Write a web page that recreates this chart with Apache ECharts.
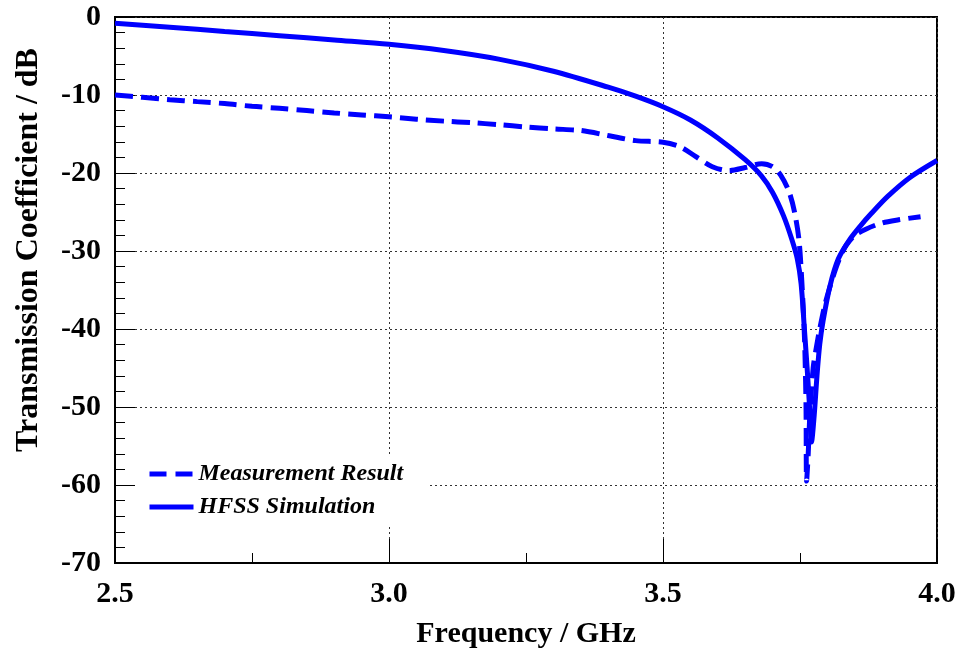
<!DOCTYPE html>
<html>
<head>
<meta charset="utf-8">
<title>Transmission Coefficient</title>
<script src="https://cdn.jsdelivr.net/npm/echarts@6/dist/echarts.min.js"></script>
<style>
  html, body { margin: 0; padding: 0; background: #fff; }
  #chart { width: 961px; height: 657px; }
</style>
</head>
<body>
<div id="chart"></div>
<script>
// Measured S21 (frequency in GHz, level in dB)
const measFreq = [2.50, 2.55, 2.60, 2.65, 2.70, 2.75, 2.80, 2.85, 2.90, 2.95,
  3.00, 3.05, 3.10, 3.15, 3.20, 3.25, 3.30, 3.35, 3.40, 3.45, 3.50,
  3.53, 3.56, 3.59, 3.62, 3.65, 3.68, 3.70, 3.715, 3.73, 3.74, 3.748, 3.753,
  3.757, 3.759, 3.761, 3.762, 3.765, 3.768, 3.774, 3.78, 3.786, 3.795, 3.805,
  3.815, 3.825, 3.835, 3.85, 3.87, 3.90, 3.93, 3.97];
const measDb = [-10.0, -10.3, -10.6, -10.85, -11.1, -11.45, -11.7, -12.0, -12.3, -12.55,
  -12.8, -13.1, -13.35, -13.55, -13.8, -14.1, -14.35, -14.55, -15.2, -15.85, -16.05,
  -16.6, -17.9, -19.2, -19.7, -19.3, -18.8, -19.2, -20.3, -22.4, -25.0, -28.5, -33.5,
  -39.0, -43.0, -50.0, -59.5, -56.0, -51.0, -45.0, -42.3, -40.0, -37.0, -34.5,
  -32.3, -30.5, -29.2, -28.0, -27.2, -26.4, -26.0, -25.6];

// HFSS simulated S21
const simFreq = [2.50, 2.60, 2.70, 2.80, 2.90, 3.00, 3.10, 3.20, 3.30, 3.40,
  3.45, 3.50, 3.55, 3.60, 3.65, 3.68, 3.70, 3.72, 3.735, 3.745, 3.752, 3.758,
  3.763, 3.767, 3.771, 3.776, 3.781, 3.786, 3.792, 3.805, 3.82, 3.84, 3.86,
  3.88, 3.91, 3.95, 4.00];
const simDb = [-0.8, -1.3, -1.85, -2.4, -2.95, -3.5, -4.3, -5.4, -6.95, -9.0,
  -10.15, -11.5, -13.2, -15.5, -18.3, -20.4, -22.5, -25.5, -28.5, -31.0, -34.2, -40.0,
  -45.0, -49.5, -54.5, -51.0, -46.0, -42.0, -39.0, -34.4, -31.0, -28.6, -26.8,
  -25.2, -23.0, -20.6, -18.4];

const seriesNames = ['Measurement Result', 'HFSS Simulation'];
const xTicks = { min: 2.5, max: 4.0, step: 0.5 };
const yTicks = { min: -70, max: 0, step: 10 };

const pairs = (xs, ys) => xs.map((x, i) => [x, ys[i]]);

const FONT = '"Liberation Serif", "Times New Roman", serif';
const BLUE = '#0000ff';
const DASH = [18, 8];

const chart = echarts.init(document.getElementById('chart'), null, { renderer: 'canvas' });

chart.setOption({
  animation: false,
  backgroundColor: '#ffffff',
  grid: {
    left: 115, right: 24, top: 17, bottom: 94,
    show: true, borderColor: '#000', borderWidth: 2, backgroundColor: 'transparent'
  },
  xAxis: {
    type: 'value',
    min: xTicks.min, max: xTicks.max, interval: xTicks.step,
    name: 'Frequency / GHz',
    nameLocation: 'middle',
    nameGap: 56,
    nameTextStyle: { fontFamily: FONT, fontWeight: 'bold', fontSize: 30, color: '#000' },
    axisLine: { show: true, onZero: false, lineStyle: { color: '#000', width: 2 } },
    axisTick: { show: true, inside: true, length: 24, lineStyle: { color: '#000', width: 1 } },
    minorTick: { show: true, splitNumber: 2, length: 10, lineStyle: { color: '#000', width: 1 } },
    axisLabel: {
      margin: 16, color: '#000', fontFamily: FONT, fontWeight: 'bold', fontSize: 30,
      formatter: v => v.toFixed(1)
    },
    splitLine: { show: true, lineStyle: { color: '#333', width: 1, type: [2, 3] } }
  },
  yAxis: {
    type: 'value',
    min: yTicks.min, max: yTicks.max, interval: yTicks.step,
    axisLine: { show: true, onZero: false, lineStyle: { color: '#000', width: 2 } },
    axisTick: { show: true, inside: true, length: 20, lineStyle: { color: '#000', width: 1 } },
    minorTick: { show: true, splitNumber: 5, length: 10, lineStyle: { color: '#000', width: 1 } },
    axisLabel: {
      margin: 14, color: '#000', fontFamily: FONT, fontWeight: 'bold', fontSize: 30
    },
    splitLine: { show: true, lineStyle: { color: '#333', width: 1, type: [2, 3] } }
  },
  legend: {
    orient: 'vertical',
    left: 135, top: 454,
    padding: [8, 25, 8, 12],
    backgroundColor: '#fff',
    itemWidth: 44, itemHeight: 14, itemGap: 9,
    itemStyle: { opacity: 0, color: 'transparent', borderWidth: 0 },
    lineStyle: { width: 5, color: BLUE },
    textStyle: {
      fontFamily: FONT, fontStyle: 'italic', fontWeight: 'bold', fontSize: 24,
      color: '#000', lineHeight: 24
    },
    data: [
      { name: seriesNames[0], lineStyle: { type: [17, 9], width: 5, color: BLUE } },
      { name: seriesNames[1], lineStyle: { type: 'solid', width: 5, color: BLUE } }
    ]
  },
  graphic: [{
    type: 'text',
    x: 29, y: 250,
    rotation: Math.PI / 2,
    style: {
      text: 'Transmission Coefficient / dB',
      font: 'bold 32px ' + FONT,
      fill: '#000',
      align: 'center',
      verticalAlign: 'middle'
    }
  }],
  series: [
    {
      name: seriesNames[0],
      type: 'line',
      data: pairs(measFreq, measDb),
      showSymbol: false,
      symbol: 'none',
      smooth: 0.3,
      lineStyle: { color: BLUE, width: 5, type: DASH, cap: 'butt' },
      itemStyle: { color: BLUE },
      z: 3
    },
    {
      name: seriesNames[1],
      type: 'line',
      data: pairs(simFreq, simDb),
      showSymbol: false,
      symbol: 'none',
      smooth: 0.3,
      lineStyle: { color: BLUE, width: 5 },
      itemStyle: { color: BLUE },
      z: 4
    }
  ]
});
</script>
</body>
</html>
